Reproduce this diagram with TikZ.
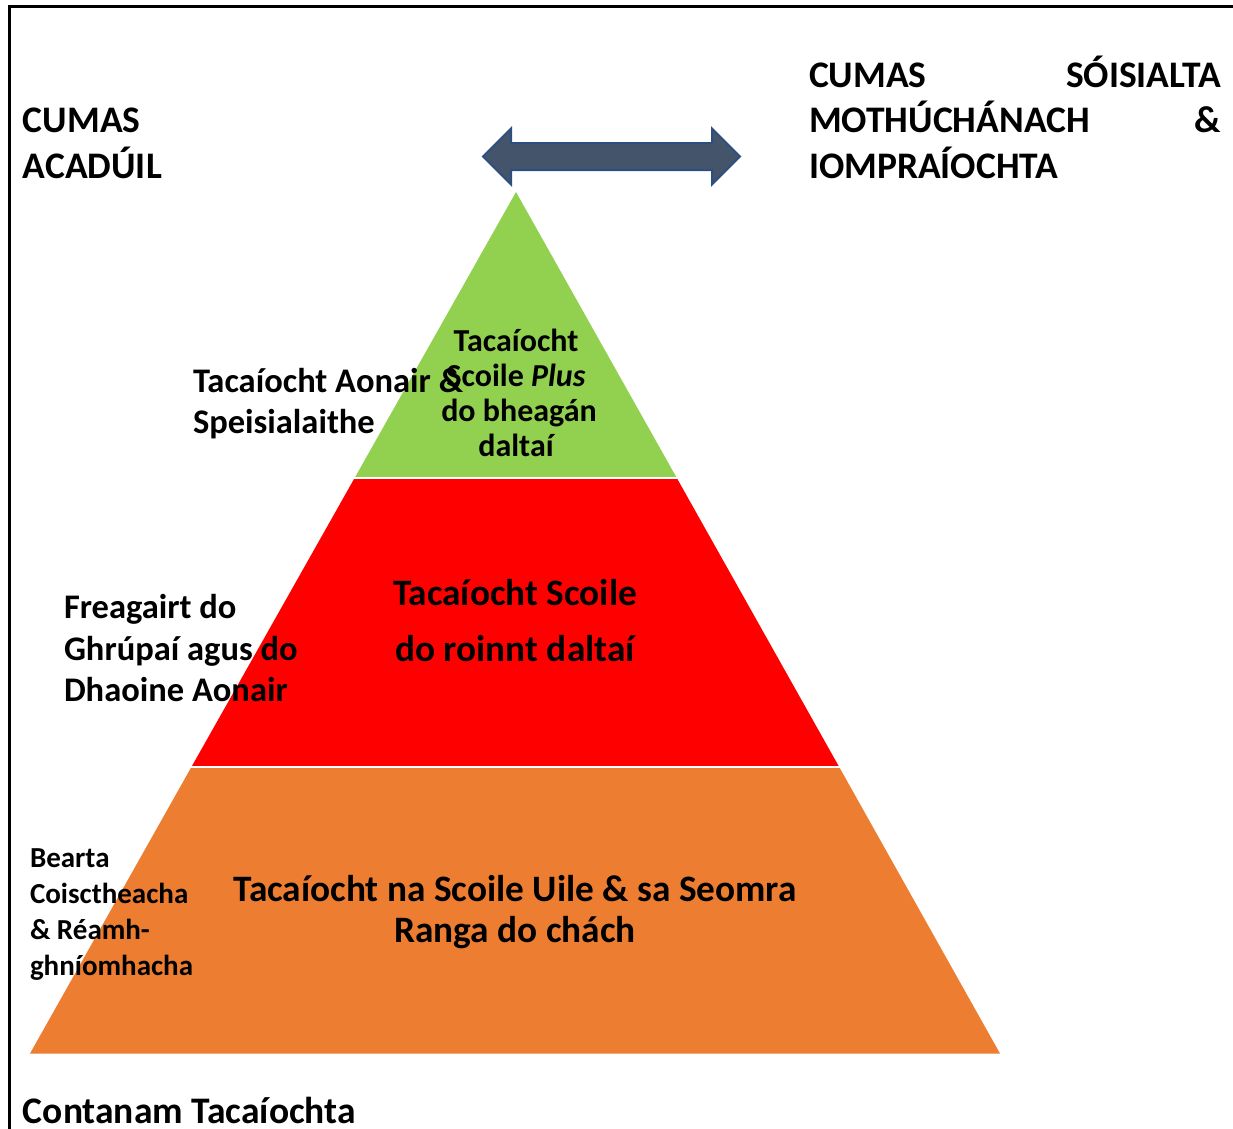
\documentclass[tikz,border=0pt]{standalone}
\usepackage{fontspec}
\setmainfont{Carlito}
\definecolor{cgreen}{HTML}{92D050}
\definecolor{cred}{HTML}{FF0000}
\definecolor{corange}{HTML}{ED7D31}
\definecolor{carrow}{HTML}{44546A}
\definecolor{carrowline}{HTML}{2C4F7F}
\newcommand{\fs}[1]{\fontsize{#1}{#1}\selectfont\bfseries}
\tikzset{
  lbl/.style={inner sep=0pt, outer sep=0pt, text=black},
  sep/.style={draw=white, line width=2.5pt},
}
\begin{document}
\begin{tikzpicture}[x=1pt,y=-1pt]
\useasboundingbox (0,0) rectangle (1233,1128);
% frame
\draw[line width=2.5pt] (9.5,1140) -- (9.5,6.5) -- (1245,6.5);
% pyramid
\fill[corange] (191.4,767) -- (839.2,767) -- (1000,1053.5) -- (30,1053.5) -- cycle;
\fill[cred] (354.6,478) -- (676.8,478) -- (839.2,767) -- (191.4,767) -- cycle;
\fill[cgreen] (516,192) -- (676.8,478) -- (354.6,478) -- cycle;
\coordinate (s1l) at (350,478);
\coordinate (s1r) at (682,478);
\coordinate (s2l) at (186,767);
\coordinate (s2r) at (845,767);
\draw[sep] (s1l) -- (s1r);
\draw[sep] (s2l) -- (s2r);
% arrow
\draw[carrowline, fill=carrow, line width=2pt, line join=miter]
  (483,156.5) -- (511,128.5) -- (511,143) -- (712,143) -- (712,128.5) -- (740,156.5)
  -- (712,184.5) -- (712,170) -- (511,170) -- (511,184.5) -- cycle;
% top labels
\node[lbl, anchor=base west] (ac1) at (23,132) {\fs{37.5}CUMAS};
\node[lbl, anchor=base west] (ac2) at (23,178) {\fs{37.5}ACADÚIL};
\node[lbl, anchor=base west] (so1) at (809,87) {\fs{37.5}CUMAS};
\node[lbl, anchor=base east] (so1b) at (1221,87) {\fs{37.5}SÓISIALTA};
\node[lbl, anchor=base west] (so2) at (809,132) {\fs{37.5}MOTHÚCHÁNACH};
\node[lbl, anchor=base east] (so2b) at (1221,132) {\fs{37.5}\&};
\node[lbl, anchor=base west] (so3) at (809,178) {\fs{37.5}IOMPRAÍOCHTA};
% left labels
\node[lbl, anchor=base west] (sp1) at (193,392) {\fs{34.5}Tacaíocht Aonair \&};
\node[lbl, anchor=base west] (sp2) at (193,433) {\fs{34.5}Speisialaithe};
\node[lbl, anchor=base west] (fr1) at (64,618) {\fs{34.5}Freagairt do};
\node[lbl, anchor=base west] (fr2) at (64,660) {\fs{34.5}Ghrúpaí agus do};
\node[lbl, anchor=base west] (fr3) at (64,701) {\fs{34.5}Dhaoine Aonair};
\node[lbl, anchor=base west] (be1) at (30,867) {\fs{29}Bearta};
\node[lbl, anchor=base west] (be2) at (30,903) {\fs{29}Coisctheacha};
\node[lbl, anchor=base west] (be3) at (30,939) {\fs{29}\& Réamh-};
\node[lbl, anchor=base west] (be4) at (30,975) {\fs{29}ghníomhacha};
% layer texts
\node[lbl, anchor=base] (g1) at (516,351) {\fs{32}Tacaíocht};
\node[lbl, anchor=base] (g2) at (516,386) {\fs{32}Scoile \textit{Plus}};
\node[lbl, anchor=base] (g3) at (519,421) {\fs{32}do bheagán};
\node[lbl, anchor=base] (g4) at (516,456) {\fs{32}daltaí};
\node[lbl, anchor=base] (r1) at (515,605) {\fs{37.3}Tacaíocht Scoile};
\node[lbl, anchor=base] (r2) at (515,661) {\fs{37.3}do roinnt daltaí};
\node[lbl, anchor=base] (o1) at (515,901) {\fs{37.3}Tacaíocht na Scoile Uile \& sa Seomra};
\node[lbl, anchor=base] (o2) at (515,942) {\fs{37.3}Ranga do chách};
% bottom label
\node[lbl, anchor=base west] (ct) at (23,1123) {\fs{37.5}Contanam Tacaíochta};
\end{tikzpicture}
\end{document}
